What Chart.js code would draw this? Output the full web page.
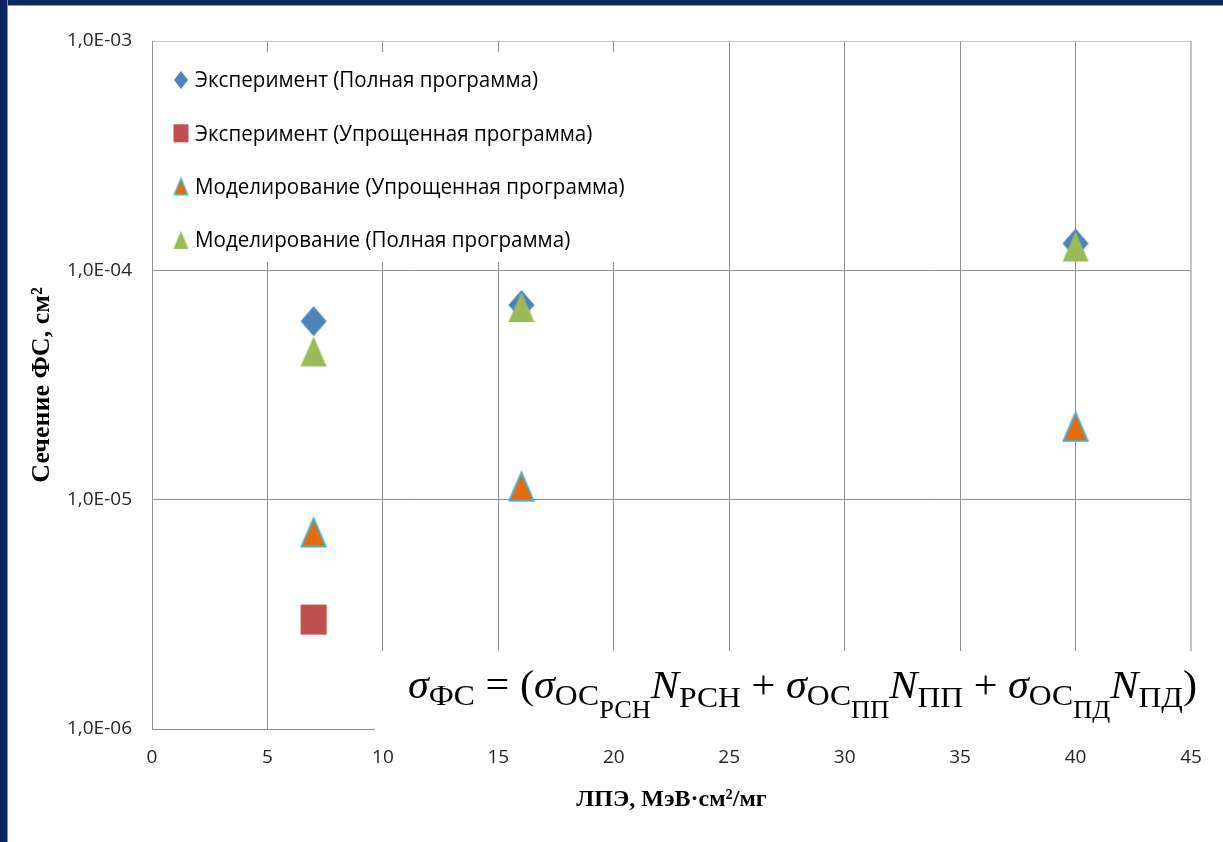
<!DOCTYPE html>
<html>
<head>
<meta charset="utf-8">
<script src="https://cdn.jsdelivr.net/npm/chart.js@4/dist/chart.umd.min.js"></script>
<style>
    html, body { margin: 0; padding: 0; background: #fff; }
    #wrap { position: relative; width: 1223px; height: 842px; overflow: hidden; }
    #frameT { position: absolute; left: 0; top: 0; width: 1223px; height: 5px; background: #0b2561; border-bottom: 1px solid #9a9a9a; }
    #frameL { position: absolute; left: 0; top: 0; width: 7px; height: 842px; background: #0b2561; border-right: 1px solid #8a8fa0; }
    canvas { position: absolute; left: 0; top: 0; }
</style>
</head>
<body>
<div id="wrap">
    <canvas id="chart" width="1223" height="842"></canvas>
    <div id="frameT"></div>
    <div id="frameL"></div>
</div>
<script>
// Данные
const letX = [7, 16, 40]; // ЛПЭ, МэВ·см²/мг
const expFull = [6.0e-5, 7.06e-5, 1.31e-4];
const expSimpleX = [7];
const expSimple = [3.0e-6];
const simSimple = [7.2e-6, 1.14e-5, 2.08e-5];
const simFull = [4.43e-5, 6.92e-5, 1.27e-4];

const seriesNames = [
    "Эксперимент (Полная программа)",
    "Эксперимент (Упрощенная программа)",
    "Моделирование (Упрощенная программа)",
    "Моделирование (Полная программа)",
];
const xTicksStep = 5;
const yTicks = [1e-6, 1e-5, 1e-4, 1e-3];
const xTitle = "ЛПЭ, МэВ·см²/мг";
const yTitle = "Сечение ФС, см²";

// маркеры в стиле Excel (рисуем на маленьком canvas)
function makeMarker(shape, w, h, fill, stroke, lw) {
    const pad = lw ? 4 : 1;
    const c = document.createElement("canvas");
    c.width = w + 2 * pad;
    c.height = h + 2 * pad;
    const g = c.getContext("2d");
    g.translate(pad, pad);
    g.beginPath();
    if (shape === "diamond") {
        g.moveTo(w / 2, 0); g.lineTo(w, h / 2); g.lineTo(w / 2, h); g.lineTo(0, h / 2);
    } else if (shape === "square") {
        g.rect(0, 0, w, h);
    } else {
        g.moveTo(w / 2, 0); g.lineTo(w, h); g.lineTo(0, h);
    }
    g.closePath();
    g.fillStyle = fill;
    g.fill();
    if (lw) {
        g.strokeStyle = stroke;
        g.lineWidth = lw;
        g.stroke();
    }
    return c;
}

const styles = [
    { shape: "diamond", fill: "#4f81bd" },
    { shape: "square", fill: "#c0504d" },
    { shape: "triangle", fill: "#e46c0a", stroke: "#4bacc6", lw: 2 },
    { shape: "triangle", fill: "#9bbb59" },
];
const bigMarkers = styles.map((s) =>
    s.lw ? makeMarker(s.shape, 24, 28, s.fill, s.stroke, s.lw) : makeMarker(s.shape, 26, 30, s.fill)
);
const smallMarkers = styles.map((s, i) => {
    const w = i === 0 ? 14 : 15;
    const h = 18;
    return s.lw ? makeMarker(s.shape, w - 2, h - 2, s.fill, s.stroke, 1.5) : makeMarker(s.shape, w, h, s.fill);
});

function pts(xs, ys) {
    return xs.map((x, i) => ({ x, y: ys[i] }));
}

function fmtSci(v) {
    const e = Math.round(Math.log10(v));
    const sign = e < 0 ? "-" : "+";
    return "1,0E" + sign + String(Math.abs(e)).padStart(2, "0");
}

// легенда внутри области графика (белый фон закрывает сетку)
const insideLegend = {
    id: "insideLegend",
    afterDraw(chart) {
        const ctx = chart.ctx;
        ctx.save();
        ctx.fillStyle = "#fff";
        ctx.fillRect(160, 52, 475, 210);
        ctx.font = "22px 'Open Sans'";
        ctx.textBaseline = "middle";
        ctx.fillStyle = "#000";
        const sx = 343 / ctx.measureText(seriesNames[0]).width;
        seriesNames.forEach((name, i) => {
            const y = 80 + i * 53.3;
            const m = smallMarkers[i];
            ctx.drawImage(m, 181 - m.width / 2, y - m.height / 2);
            ctx.save();
            ctx.translate(195, y + 1);
            ctx.scale(sx, 1);
            ctx.fillText(name, 0, 0);
            ctx.restore();
        });
        ctx.restore();
    },
};

// формула в правом нижнем углу
const formulaRuns = [
    ["σ", "italic", 1, 0], ["ФС", "", 0.75, 7], [" = (", "", 1, 0],
    ["σ", "italic", 1, 0], ["ОС", "", 0.75, 7], ["РСН", "", 0.62, 20], ["N", "italic", 1, 0], ["РСН", "", 0.75, 9],
    [" + ", "", 1, 0],
    ["σ", "italic", 1, 0], ["ОС", "", 0.75, 7], ["ПП", "", 0.62, 20], ["N", "italic", 1, 0], ["ПП", "", 0.75, 9],
    [" + ", "", 1, 0],
    ["σ", "italic", 1, 0], ["ОС", "", 0.75, 7], ["ПД", "", 0.62, 20], ["N", "italic", 1, 0], ["ПД", "", 0.75, 9],
    [")", "", 1, 0],
];
const formulaBox = {
    id: "formulaBox",
    afterDraw(chart) {
        const ctx = chart.ctx;
        const M = 40;
        ctx.save();
        ctx.fillStyle = "#fff";
        ctx.fillRect(375, 651, 848, 95);
        ctx.fillStyle = "#000";
        ctx.textBaseline = "alphabetic";
        const fontOf = (r) => `${r[1]} ${Math.round(M * r[2])}px 'Liberation Serif'`;
        let total = 0;
        formulaRuns.forEach((r) => {
            ctx.font = fontOf(r);
            total += ctx.measureText(r[0]).width;
        });
        const sx = (1197 - 408) / total;
        ctx.translate(408, 698);
        ctx.scale(sx, 1);
        let x = 0;
        formulaRuns.forEach((r) => {
            ctx.font = fontOf(r);
            ctx.fillText(r[0], x, r[3]);
            x += ctx.measureText(r[0]).width;
        });
        ctx.restore();
    },
};

const gridGray = "#8e8e8e";
const frameGray = "#c4c4c4";
const tickFont = { family: "Open Sans", size: 19 };

new Chart(document.getElementById("chart"), {
    type: "scatter",
    data: {
        datasets: [
            { label: seriesNames[0], data: pts(letX, expFull), pointStyle: bigMarkers[0], order: 3 },
            { label: seriesNames[1], data: pts(expSimpleX, expSimple), pointStyle: bigMarkers[1], order: 2 },
            { label: seriesNames[2], data: pts(letX, simSimple), pointStyle: bigMarkers[2], order: 1 },
            { label: seriesNames[3], data: pts(letX, simFull), pointStyle: bigMarkers[3], order: 0 },
        ],
    },
    options: {
        responsive: false,
        animation: false,
        devicePixelRatio: 1,
        layout: { padding: { top: 41, right: 32, left: 0, bottom: 0 } },
        plugins: { legend: { display: false }, tooltip: { enabled: false } },
        elements: { point: { radius: 14 } },
        scales: {
            x: {
                type: "linear",
                min: 0,
                max: 45,
                ticks: { stepSize: xTicksStep, padding: 17, color: "#262626", font: tickFont },
                grid: {
                    drawTicks: false,
                    color: (c) => (c.tick && c.tick.value === 45 ? frameGray : gridGray),
                    lineWidth: (c) => (c.tick && c.tick.value === 45 ? 2 : 1),
                },
                border: { color: gridGray },
                title: {
                    display: true,
                    text: xTitle,
                    color: "#000",
                    font: { family: "Liberation Serif", size: 24, weight: "bold" },
                    padding: { top: 0, bottom: 28 },
                },
                afterFit: (s) => { s.height = 113; },
            },
            y: {
                type: "logarithmic",
                min: 1e-6,
                max: 1e-3,
                afterBuildTicks: (s) => { s.ticks = yTicks.map((v) => ({ value: v })); },
                ticks: { padding: 20, color: "#262626", font: tickFont, callback: (v) => fmtSci(v) },
                grid: {
                    drawTicks: false,
                    color: (c) => (c.tick && c.tick.value === 1e-3 ? frameGray : gridGray),
                },
                border: { color: gridGray },
                title: {
                    display: true,
                    text: yTitle,
                    color: "#000",
                    font: { family: "Liberation Serif", size: 26, weight: "bold" },
                    padding: { top: 27, bottom: 0 },
                },
                afterFit: (s) => { s.width = 152; },
            },
        },
    },
    plugins: [insideLegend, formulaBox],
});
</script>
</body>
</html>
